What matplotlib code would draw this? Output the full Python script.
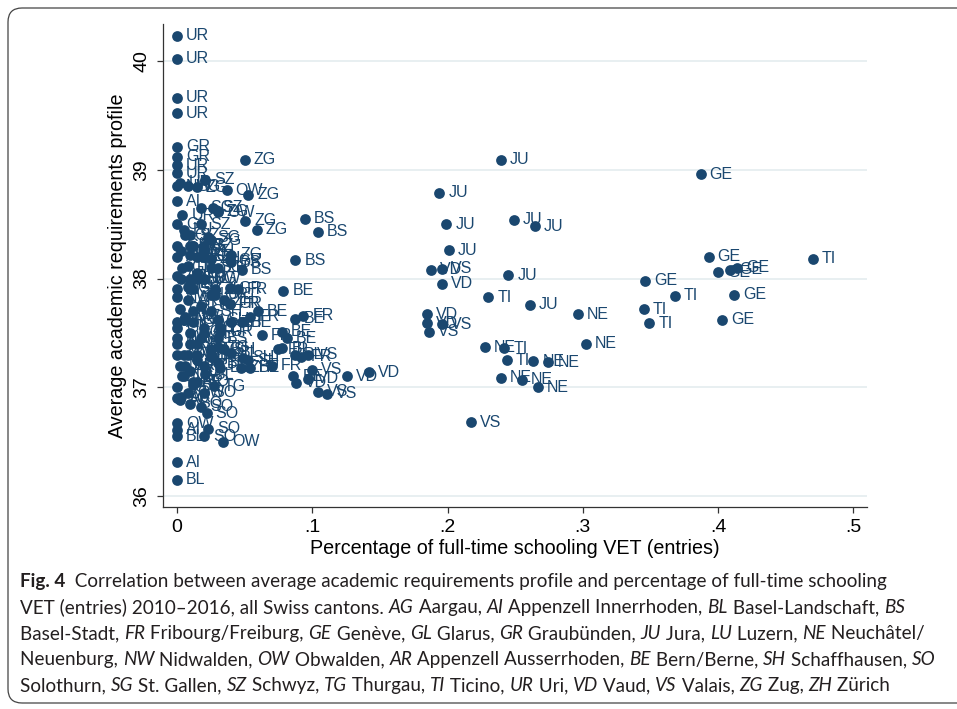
import numpy as np
import matplotlib
matplotlib.use("Agg")
import matplotlib.pyplot as plt
from matplotlib.patches import FancyBboxPatch
from matplotlib.transforms import IdentityTransform

# cantons and their yearly values (share of full-time schooling VET, academic profile)
cantons = ["AG", "AI", "AR", "BE", "BL", "BS", "FR", "GE", "GL", "GR", "JU", "LU", "NE",
           "NW", "OW", "SG", "SH", "SO", "SZ", "TG", "TI", "UR", "VD", "VS", "ZG", "ZH"]

share = [
    [0.005, 0.010, 0.015, 0.020, 0.012, 0.008, 0.018, 0.025],      # AG
    [0.000, 0.000, 0.000, 0.002, 0.000, 0.000, 0.000, 0.000],      # AI
    [0.003, 0.000, 0.005, 0.008, 0.000, 0.010, 0.006, 0.012],      # AR
    [0.0786, 0.087, 0.081, 0.0774, 0.048, 0.054, 0.086, 0.060],    # BE
    [0.000, 0.000, 0.078, 0.087, 0.012, 0.021, 0.030, 0.040],      # BL
    [0.0946, 0.104, 0.0875, 0.048, 0.040, 0.032, 0.025, 0.030],    # BS
    [0.0934, 0.054, 0.0626, 0.092, 0.070, 0.039, 0.045, 0.075],    # FR
    [0.387, 0.393, 0.400, 0.409, 0.414, 0.346, 0.412, 0.403],      # GE
    [0.000, 0.000, 0.004, 0.008, 0.002, 0.000, 0.006, 0.003],      # GL
    [0.000, 0.000, 0.039, 0.039, 0.039, 0.032, 0.010, 0.028],      # GR
    [0.2395, 0.1939, 0.199, 0.249, 0.2646, 0.2008, 0.2449, 0.2609],  # JU
    [0.005, 0.012, 0.020, 0.015, 0.010, 0.025, 0.018, 0.008],      # LU
    [0.2964, 0.302, 0.2276, 0.2634, 0.2745, 0.2392, 0.2548, 0.2666],  # NE
    [0.000, 0.000, 0.003, 0.006, 0.000, 0.002, 0.010, 0.004],      # NW
    [0.0367, 0.0305, 0.034, 0.000, 0.012, 0.005, 0.020, 0.008],    # OW
    [0.018, 0.0232, 0.0084, 0.015, 0.020, 0.010, 0.025, 0.012],    # SG
    [0.0305, 0.049, 0.0527, 0.020, 0.015, 0.025, 0.010, 0.035],    # SH
    [0.018, 0.022, 0.023, 0.020, 0.010, 0.000, 0.015, 0.020],      # SO
    [0.0207, 0.027, 0.018, 0.010, 0.020, 0.015, 0.012, 0.020],     # SZ
    [0.0305, 0.0276, 0.000, 0.025, 0.010, 0.020, 0.005, 0.015],    # TG
    [0.470, 0.368, 0.345, 0.349, 0.230, 0.242, 0.244],             # TI
    [0.000, 0.000, 0.000, 0.000, 0.000, 0.000, 0.002, 0.004],      # UR
    [0.1877, 0.196, 0.185, 0.185, 0.1421, 0.1254, 0.088, 0.097],   # VD
    [0.196, 0.196, 0.1865, 0.097, 0.0995, 0.1045, 0.1106, 0.217],  # VS
    [0.050, 0.0527, 0.0503, 0.0589, 0.0145, 0.030, 0.025, 0.040],  # ZG
    [0.020, 0.025, 0.030, 0.028, 0.035, 0.040, 0.047, 0.032],      # ZH
]

profile = [
    [37.62, 37.50, 37.40, 37.55, 37.70, 37.30, 37.45, 37.35],  # AG
    [38.71, 36.31, 36.61, 36.88, 37.30, 37.60, 37.90, 38.20],  # AI
    [36.91, 37.40, 37.62, 37.80, 38.02, 38.22, 37.20, 37.05],  # AR
    [37.89, 37.63, 37.45, 37.51, 37.60, 37.18, 37.10, 37.70],  # BE
    [36.15, 36.55, 37.36, 37.30, 37.02, 37.12, 37.22, 37.32],  # BL
    [38.55, 38.43, 38.17, 38.08, 38.15, 37.18, 37.30, 37.45],  # BS
    [37.66, 37.65, 37.48, 37.28, 37.20, 37.77, 37.90, 37.35],  # FR
    [38.96, 38.20, 38.06, 38.08, 38.10, 37.98, 37.85, 37.62],  # GE
    [38.50, 38.30, 38.10, 37.92, 37.72, 37.55, 38.40, 38.00],  # GL
    [39.21, 39.12, 38.17, 37.91, 37.77, 37.51, 38.30, 37.85],  # GR
    [39.09, 38.79, 38.50, 38.54, 38.48, 38.26, 38.03, 37.76],  # JU
    [38.45, 38.30, 38.20, 38.05, 37.95, 37.85, 37.75, 38.12],  # LU
    [37.67, 37.40, 37.37, 37.24, 37.23, 37.09, 37.07, 37.00],  # NE
    [38.85, 37.83, 38.25, 37.65, 37.45, 37.20, 38.00, 37.10],  # NW
    [38.81, 38.61, 36.50, 36.67, 37.60, 37.30, 38.00, 36.95],  # OW
    [38.65, 38.38, 38.85, 38.20, 38.00, 37.90, 38.10, 38.30],  # SG
    [37.62, 37.27, 37.25, 37.50, 37.30, 37.70, 37.40, 37.35],  # SH
    [36.82, 36.76, 36.62, 36.55, 36.85, 36.90, 37.05, 36.95],  # SO
    [38.91, 38.65, 38.50, 38.40, 38.20, 38.00, 37.90, 38.30],  # SZ
    [37.37, 37.01, 37.00, 37.28, 37.15, 37.20, 37.10, 37.25],  # TG
    [38.18, 37.84, 37.72, 37.59, 37.83, 37.36, 37.25],         # TI
    [40.23, 40.02, 39.66, 39.52, 39.04, 38.97, 38.88, 38.58],  # UR
    [38.08, 37.95, 37.67, 37.59, 37.14, 37.10, 37.04, 37.08],  # VD
    [38.09, 37.58, 37.51, 37.30, 37.16, 36.96, 36.94, 36.68],  # VS
    [39.09, 38.77, 38.53, 38.45, 38.84, 38.62, 38.35, 38.22],  # ZG
    [38.25, 38.18, 38.10, 37.90, 37.80, 37.60, 37.18, 37.55],  # ZH
]

xticks = [0, 0.1, 0.2, 0.3, 0.4, 0.5]
xticklabels = ["0", ".1", ".2", ".3", ".4", ".5"]
yticks = [36, 37, 38, 39, 40]

caption = [
    "Fig. 4|  Correlation between average academic requirements profile and percentage of full-time schooling",
    "VET (entries) 2010\u20132016, all Swiss cantons. *AG* Aargau, *AI* Appenzell Innerrhoden, *BL* Basel-Landschaft, *BS*",
    "Basel-Stadt, *FR* Fribourg/Freiburg, *GE* Gen\u00e8ve, *GL* Glarus, *GR* Graub\u00fcnden, *JU* Jura, *LU* Luzern, *NE* Neuch\u00e2tel/",
    "Neuenburg, *NW* Nidwalden, *OW* Obwalden, *AR* Appenzell Ausserrhoden, *BE* Bern/Berne, *SH* Schaffhausen, *SO*",
    "Solothurn, *SG* St. Gallen, *SZ* Schwyz, *TG* Thurgau, *TI* Ticino, *UR* Uri, *VD* Vaud, *VS* Valais, *ZG* Zug, *ZH* Z\u00fcrich",
]

navy = "#1a476f"
W, H = 957, 709

plt.rcParams['font.family'] = ['Liberation Sans', 'DejaVu Sans']
fig = plt.figure(figsize=(W / 100, H / 100), dpi=100)

# rounded frame around the figure
frame = FancyBboxPatch((8, H - 703), 1000, 695, boxstyle="round,pad=0,rounding_size=14",
                       transform=IdentityTransform(), fill=False, ec="#444444", lw=0.9)
fig.patches.append(frame)
frame.set_figure(fig)

ax = fig.add_axes([163 / W, 1 - 507 / H, (867 - 163) / W, (507 - 24) / H])

for c, xs, ys in zip(cantons, share, profile):
    ax.scatter(xs, ys, s=60, color=navy, zorder=3, linewidths=0)
    for x, y in zip(xs, ys):
        ax.annotate(c, (x, y), xytext=(6.5, 0), textcoords="offset points",
                    va="center", ha="left", fontsize=11.5, color=navy, zorder=4)

ax.set_xlim(-0.0103, 0.51)
ax.set_ylim(35.90, 40.34)
ax.set_xticks(xticks)
ax.set_xticklabels(xticklabels)
ax.set_yticks(yticks)
ax.set_yticklabels([str(v) for v in yticks], rotation=90, va="center")
ax.tick_params(direction="out", length=4, width=0.9, color="#333333", labelsize=14, pad=5)
ax.yaxis.grid(True, color="#e6eef0", lw=1.3, zorder=0)
ax.set_axisbelow(True)
for s in ["top", "right"]:
    ax.spines[s].set_visible(False)
for s in ["left", "bottom"]:
    ax.spines[s].set_color("#333333")
    ax.spines[s].set_linewidth(0.9)

ax.set_xlabel("Percentage of full-time schooling VET (entries)", fontsize=14.2, labelpad=2)
ax.set_ylabel("Average academic requirements profile", fontsize=14.2, labelpad=5)

# caption with bold / italic pieces
renderer = fig.canvas.get_renderer()


def seg_width(s, **kw):
    t = fig.text(0, 0, "|" + s + "|", **kw)
    w1 = t.get_window_extent(renderer).width
    t.set_text("||")
    w2 = t.get_window_extent(renderer).width
    t.remove()
    return w1 - w2


cap_kw = dict(family=["Lato", "DejaVu Sans"], fontsize=13.6, color="#231f20")
base = 587
for i, line in enumerate(caption):
    y = 1 - (base + i * 26) / H
    x = 20
    if "|" in line:
        bold, line = line.split("|")
        fig.text(x / W, y, bold, weight="bold", va="baseline", **cap_kw)
        x += seg_width(bold, weight="bold", **cap_kw)
    parts = line.split("*")
    for k, p in enumerate(parts):
        if not p:
            continue
        style = "italic" if k % 2 else "normal"
        fig.text(x / W, y, p, style=style, va="baseline", **cap_kw)
        x += seg_width(p, style=style, **cap_kw)

fig.savefig("out.png", dpi=100)
